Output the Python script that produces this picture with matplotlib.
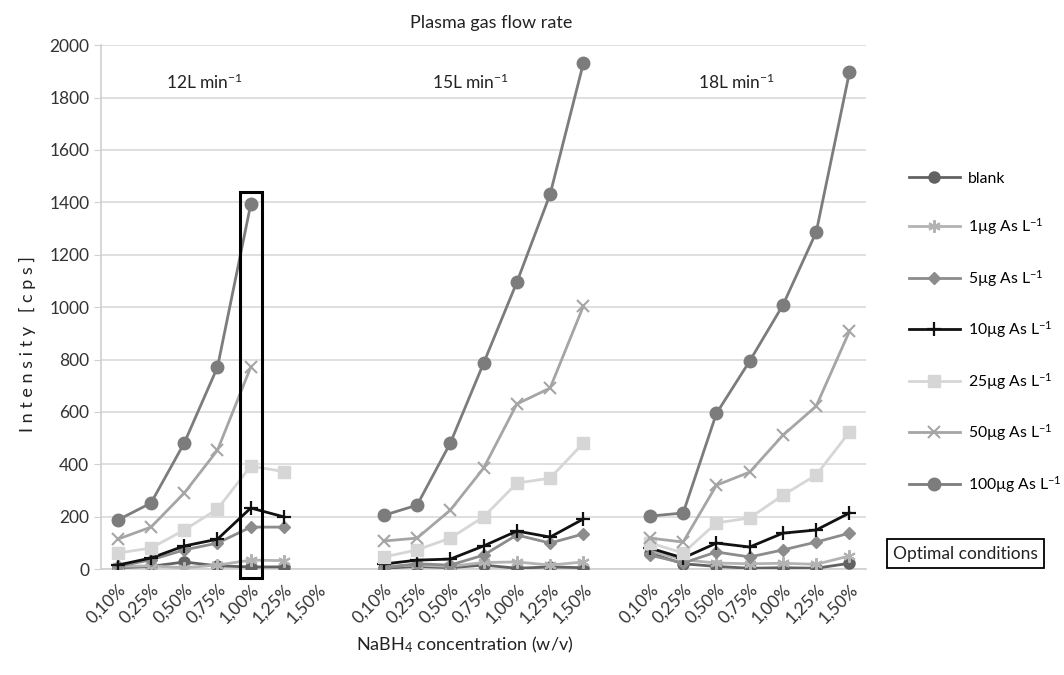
import numpy as np
import matplotlib
matplotlib.use("Agg")
import matplotlib.pyplot as plt
from matplotlib.patches import Rectangle

plt.rcParams['font.family'] = ['Lato', 'DejaVu Sans']
plt.rcParams['mathtext.default'] = 'regular'

# NaBH4 concentration categories (same for each gas flow)
conc = ["0,10%", "0,25%", "0,50%", "0,75%", "1,00%", "1,25%", "1,50%"]
flows = ["12L min$^{-1}$", "15L min$^{-1}$", "18L min$^{-1}$"]
labels = ["blank", "1µg As L$^{-1}$", "5µg As L$^{-1}$", "10µg As L$^{-1}$",
          "25µg As L$^{-1}$", "50µg As L$^{-1}$", "100µg As L$^{-1}$"]
nan = np.nan

# intensity [cps], one list per flow rate
blank_12 = [5, 10, 27, 12, 8, 8, nan]
blank_15 = [3, 10, 5, 15, 3, 8, 5]
blank_18 = [61, 20, 10, 3, 5, 3, 22]
as1_12 = [10, 12, 5, 15, 34, 32, nan]
as1_15 = [10, 15, 10, 25, 27, 15, 27]
as1_18 = [70, 35, 23, 20, 22, 18, 50]
as5_12 = [10, 35, 73, 99, 160, 160, nan]
as5_15 = [5, 20, 15, 53, 130, 99, 134]
as5_18 = [53, 23, 65, 46, 73, 103, 137]
as10_12 = [15, 42, 88, 114, 233, 199, nan]
as10_15 = [19, 34, 38, 88, 145, 122, 191]
as10_18 = [80, 42, 99, 84, 137, 149, 214]
as25_12 = [61, 80, 149, 229, 393, 372, nan]
as25_15 = [46, 73, 118, 199, 328, 347, 481]
as25_18 = [100, 61, 176, 195, 282, 359, 523]
as50_12 = [114, 160, 290, 454, 771, nan, nan]
as50_15 = [107, 118, 225, 385, 630, 691, 1004]
as50_18 = [118, 103, 320, 370, 511, 622, 908]
as100_12 = [187, 252, 481, 771, 1393, nan, nan]
as100_15 = [205, 244, 481, 786, 1095, 1431, 1931]
as100_18 = [202, 214, 594, 794, 1008, 1286, 1897]

series = [
    ([blank_12, blank_15, blank_18], dict(color="#626262", marker="o", ms=8)),
    ([as1_12, as1_15, as1_18], dict(color="#b3b3b3", marker=(6, 2, 0), ms=9, mew=1.5)),
    ([as5_12, as5_15, as5_18], dict(color="#8c8c8c", marker="D", ms=6.5)),
    ([as10_12, as10_15, as10_18], dict(color="#111111", marker="+", ms=10, mew=1.6)),
    ([as25_12, as25_15, as25_18], dict(color="#d6d6d6", marker="s", ms=8)),
    ([as50_12, as50_15, as50_18], dict(color="#a5a5a5", marker="x", ms=9, mew=1.5)),
    ([as100_12, as100_15, as100_18], dict(color="#7c7c7c", marker="o", ms=9)),
]

fig = plt.figure(figsize=(10.64, 6.75), dpi=100)
ax = fig.add_axes([0.095, 0.157, 0.719, 0.776])

step = len(conc) + 1          # one empty category between groups
n = len(conc)
for (groups, st), lab in zip(series, labels):
    for g, vals in enumerate(groups):
        x = np.arange(n) + g * step
        ax.plot(x, vals, lw=2.0, label=lab if g == 0 else None, zorder=3, **st)

xt = np.concatenate([np.arange(n) + g * step for g in range(len(flows))])
ax.set_xticks(xt)
ax.set_xticklabels(conc * len(flows), rotation=45, ha="right", rotation_mode="anchor",
                   fontsize=12.5, color="#333333")
ax.tick_params(axis="x", length=0, pad=9)
ax.set_xlim(-0.5, xt[-1] + 0.5)
ax.set_ylim(0, 2000)
ax.set_yticks(np.arange(0, 2001, 200))
ax.tick_params(axis="y", labelsize=12.5, colors="#333333", length=5, color="#d0d0d0")
ax.grid(axis="y", color="#d9d9d9", lw=1.2, zorder=0)
for s in ["top", "right"]:
    ax.spines[s].set_visible(False)
for s in ["left", "bottom"]:
    ax.spines[s].set_color("#d0d0d0")
    ax.spines[s].set_linewidth(1.2)

# flow-rate labels over each group
for g, fl in enumerate(flows):
    ax.text(g * step + 2.6, 1860, fl, ha="center", va="center", fontsize=12.5, color="#222222")

# optimal conditions box (12 L/min, 1,00%)
ax.add_patch(Rectangle((3.68, -35), 0.66, 1475, fill=False, ec="black", lw=2.2,
                       clip_on=False, zorder=4))

fig.text(0.462, 0.966, "Plasma gas flow rate", ha="center", va="center", fontsize=13, color="#222222")
fig.text(0.437, 0.045, "NaBH$_4$ concentration (w/v)", ha="center", va="center",
         fontsize=13, color="#222222")
fig.text(0.026, 0.49, "I n t e n s i t y   [ c p s ]", rotation=90, ha="center", va="center",
         fontsize=13, color="#222222")

fig.legend(loc="upper left", bbox_to_anchor=(0.848, 0.755), frameon=False, fontsize=11.3,
           handlelength=3.3, labelspacing=1.95, handletextpad=0.5, borderaxespad=0)
fig.text(0.839, 0.18, "Optimal conditions", ha="left", va="center", fontsize=12.5,
         color="#222222", bbox=dict(boxstyle="square,pad=0.35", fc="white", ec="black", lw=1.3))

fig.savefig("out.png", dpi=100)
